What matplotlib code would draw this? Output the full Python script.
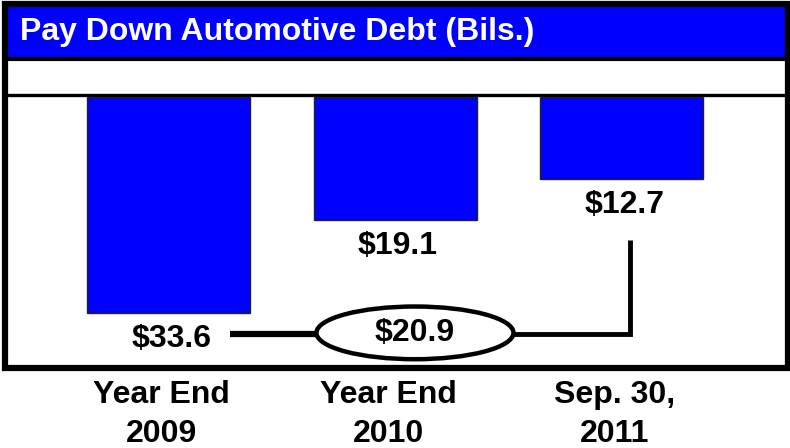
import matplotlib.pyplot as plt
from matplotlib.patches import Ellipse, Rectangle

plt.rcParams['font.family'] = ['Liberation Sans', 'DejaVu Sans']

# data
categories = ["Year End\n2009", "Year End\n2010", "Sep. 30,\n2011"]
debt = [33.6, 19.1, 12.7]
paid_down = 20.9
title = "Pay Down Automotive Debt (Bils.)"

BLUE = "#0000ff"
W, H = 790, 448

fig = plt.figure(figsize=(W / 100, H / 100), dpi=100)

def px_rect(x0, y0, x1, y1):
    # pixel box (top-left origin) -> figure fraction
    return [x0 / W, 1 - y1 / H, (x1 - x0) / W, (y1 - y0) / H]

# chart area
ax = fig.add_axes(px_rect(8, 97, 785, 365))
x = list(range(len(debt)))
ax.bar(x, debt, width=0.72, color=BLUE, edgecolor="#222222", linewidth=1)
ax.set_xlim(-0.709, 2.722)
ax.set_ylim(41.7, 0)
ax.axis("off")

for xi, v in zip(x, debt):
    ax.annotate(f"${v}", xy=(xi, v), xytext=(2, -19), textcoords="offset points",
                ha="center", va="center", fontsize=23, fontweight="bold")

for xi, lab in zip(x, categories):
    ax.annotate(lab, xy=(xi, 0), xycoords=("data", "axes fraction"),
                xytext=(-5, -11), textcoords="offset points",
                ha="center", va="top", fontsize=23, fontweight="bold",
                linespacing=1.36, annotation_clip=False)

# connector: 2009 -> ellipse -> 2011
line_y = 36.9
ell_x, ell_w, ell_h = 1.088, 0.87, 8.2
ax.plot([x[0] + 0.27, ell_x - ell_w / 2], [line_y, line_y], color="black", lw=4.5,
        solid_capstyle="butt", clip_on=False)
ax.plot([ell_x + ell_w / 2, x[2] + 0.037, x[2] + 0.037], [line_y, line_y, 22.3],
        color="black", lw=3.5, solid_capstyle="butt", solid_joinstyle="miter", clip_on=False)
ax.add_patch(Ellipse((ell_x, line_y - 0.2), ell_w, ell_h, facecolor="white",
                     edgecolor="black", lw=3.2, clip_on=False))
ax.text(ell_x, line_y - 0.2, f"${paid_down}", ha="center", va="center",
        fontsize=23, fontweight="bold")

# frame, title bar and separators in pixel space
ov = fig.add_axes([0, 0, 1, 1], zorder=-1)
ov.set_xlim(0, W)
ov.set_ylim(H, 0)
ov.axis("off")
ov.add_patch(Rectangle((8, 7), 777, 50, facecolor=BLUE, edgecolor="none"))
ov.plot([6, 786], [59, 59], color="black", lw=3)
ov.plot([6, 786], [95.5, 95.5], color="black", lw=2.4)

top = fig.add_axes([0, 0, 1, 1], zorder=5)
top.set_xlim(0, W)
top.set_ylim(H, 0)
top.axis("off")
top.add_patch(Rectangle((5, 4), 782.5, 364.5, facecolor="none", edgecolor="black", lw=4.5))
top.text(20, 32, title, color="white", fontsize=23, fontweight="bold",
         ha="left", va="center")

fig.savefig("out.png", dpi=100)
